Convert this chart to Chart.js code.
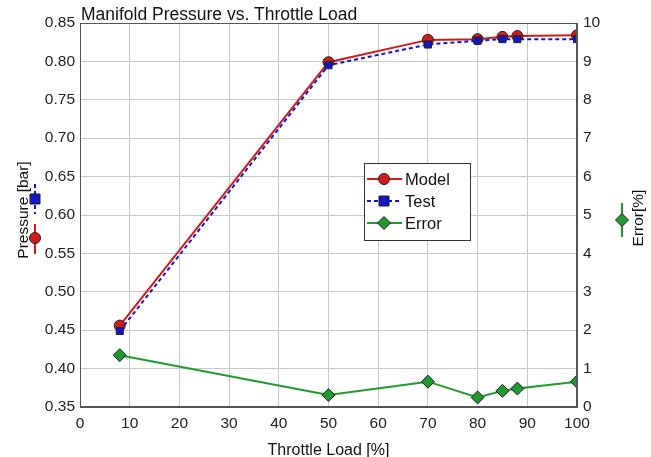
<!DOCTYPE html>
<html>
<head>
<meta charset="utf-8">
<script src="https://cdn.jsdelivr.net/npm/chart.js@4"></script>
<style>
  body { margin: 0; background: #fff; }
  canvas { display: block; }
</style>
</head>
<body>
<canvas id="chart" width="651" height="457"></canvas>
<script>
const throttle = [8, 50, 70, 80, 85, 88, 100];
const modelP = [0.456, 0.799, 0.828, 0.829, 0.832, 0.833, 0.834];
const testP = [0.449, 0.795, 0.822, 0.827, 0.829, 0.829, 0.829];
const errorPct = [1.35, 0.31, 0.66, 0.25, 0.42, 0.48, 0.66];

const FONT = 'Liberation Sans, Arial, sans-serif';
const RED = '#d21a1a', BLUE = '#1414c8', GREEN = '#1f9a2e';

function pts(ys) { return throttle.map((x, i) => ({ x: x, y: ys[i] })); }

function marker(ctx, kind, x, y, fill) {
  ctx.save();
  ctx.fillStyle = fill;
  ctx.strokeStyle = '#202020';
  ctx.lineWidth = 1;
  ctx.beginPath();
  if (kind === 'circle') ctx.arc(x, y, 5.5, 0, Math.PI * 2);
  else if (kind === 'rect') ctx.rect(x - 5, y - 5, 10, 10);
  else { ctx.moveTo(x, y - 6.5); ctx.lineTo(x + 6.5, y); ctx.lineTo(x, y + 6.5); ctx.lineTo(x - 6.5, y); ctx.closePath(); }
  ctx.fill(); ctx.stroke();
  ctx.restore();
}

// title, axis titles with their little series keys, legend box, top frame
const decor = {
  id: 'decor',
  afterDraw(chart) {
    const ctx = chart.ctx, a = chart.chartArea;
    ctx.save();
    ctx.strokeStyle = '#555';
    ctx.lineWidth = 1;
    ctx.strokeRect(a.left + 0.5, a.top + 0.5, a.right - a.left - 1, a.bottom - a.top - 1);

    ctx.fillStyle = '#111';
    ctx.font = '17.5px ' + FONT;
    ctx.textBaseline = 'alphabetic';
    ctx.textAlign = 'left';
    ctx.fillText('Manifold Pressure vs. Throttle Load', a.left + 1, 20);

    ctx.textAlign = 'center';
    ctx.font = '16px ' + FONT;
    ctx.fillText('Throttle Load [%]', (a.left + a.right) / 2, 455);

    // left title
    ctx.font = '15.5px ' + FONT;
    ctx.save();
    ctx.translate(28, 210);
    ctx.rotate(-Math.PI / 2);
    ctx.fillText('Pressure [bar]', 0, 0);
    ctx.restore();
    // key marks by the left title
    ctx.lineWidth = 2;
    ctx.strokeStyle = RED;
    ctx.beginPath(); ctx.moveTo(35, 224); ctx.lineTo(35, 254); ctx.stroke();
    marker(ctx, 'circle', 35, 238, RED);
    ctx.strokeStyle = BLUE;
    ctx.setLineDash([4, 3]);
    ctx.beginPath(); ctx.moveTo(35, 184); ctx.lineTo(35, 214); ctx.stroke();
    ctx.setLineDash([]);
    marker(ctx, 'rect', 35, 199, BLUE);

    // right title
    ctx.save();
    ctx.translate(643, 218);
    ctx.rotate(-Math.PI / 2);
    ctx.fillStyle = '#111';
    ctx.fillText('Error[%]', 0, 0);
    ctx.restore();
    ctx.strokeStyle = GREEN;
    ctx.lineWidth = 2;
    ctx.beginPath(); ctx.moveTo(622, 203); ctx.lineTo(622, 237); ctx.stroke();
    marker(ctx, 'diamond', 622, 220, GREEN);

    // legend box
    const bx = 364, by = 163, bw = 106, bh = 77;
    ctx.fillStyle = '#fff';
    ctx.fillRect(bx, by, bw, bh);
    ctx.strokeStyle = '#333';
    ctx.lineWidth = 1;
    ctx.strokeRect(bx + 0.5, by + 0.5, bw, bh);
    const rows = [
      { label: 'Model', color: RED, kind: 'circle', dash: [] },
      { label: 'Test', color: BLUE, kind: 'rect', dash: [4, 3] },
      { label: 'Error', color: GREEN, kind: 'diamond', dash: [] }
    ];
    ctx.font = '16.5px ' + FONT;
    ctx.textAlign = 'left';
    ctx.textBaseline = 'middle';
    rows.forEach((r, i) => {
      const y = by + 16 + i * 22;
      ctx.strokeStyle = r.color;
      ctx.lineWidth = 2;
      ctx.setLineDash(r.dash);
      ctx.beginPath(); ctx.moveTo(bx + 3, y); ctx.lineTo(bx + 38, y); ctx.stroke();
      ctx.setLineDash([]);
      marker(ctx, r.kind, bx + 20, y, r.color);
      ctx.fillStyle = '#111';
      ctx.fillText(r.label, bx + 41, y + 1);
    });
    ctx.restore();
  }
};

new Chart(document.getElementById('chart'), {
  type: 'line',
  data: {
    datasets: [
      {
        label: 'Model', data: pts(modelP), yAxisID: 'y',
        borderColor: RED, backgroundColor: RED, borderWidth: 2,
        pointStyle: 'circle', pointRadius: 5.5, pointBorderColor: '#202020', pointBorderWidth: 1,
        tension: 0, order: 2
      },
      {
        label: 'Test', data: pts(testP), yAxisID: 'y',
        borderColor: BLUE, backgroundColor: BLUE, borderWidth: 2, borderDash: [4, 3],
        pointStyle: 'rect', pointRadius: 5, pointBorderColor: '#202020', pointBorderWidth: 1,
        tension: 0, order: 1
      },
      {
        label: 'Error', data: pts(errorPct), yAxisID: 'y2',
        borderColor: GREEN, backgroundColor: GREEN, borderWidth: 2,
        pointStyle: 'rectRot', pointRadius: 6.5, pointBorderColor: '#202020', pointBorderWidth: 1,
        tension: 0, order: 3
      }
    ]
  },
  options: {
    responsive: false,
    animation: false,
    layout: { padding: { top: 23, left: 0, right: 0, bottom: 0 } },
    plugins: { legend: { display: false }, title: { display: false }, tooltip: { enabled: false } },
    scales: {
      x: {
        type: 'linear', min: 0, max: 100,
        ticks: { stepSize: 10, color: '#222', font: { family: FONT, size: 15.5 }, padding: 7 },
        grid: { color: '#c8c8c8', drawTicks: false },
        border: { color: '#555' },
        afterFit(s) { s.height = 50; }
      },
      y: {
        position: 'left', min: 0.35, max: 0.85,
        ticks: { stepSize: 0.05, color: '#222', font: { family: FONT, size: 15.5 }, padding: 5,
          callback: v => v.toFixed(2) },
        grid: { color: '#c8c8c8', drawTicks: false },
        border: { color: '#555' },
        afterFit(s) { s.width = 80; }
      },
      y2: {
        position: 'right', min: 0, max: 10,
        ticks: { stepSize: 1, color: '#222', font: { family: FONT, size: 15.5 }, padding: 6 },
        grid: { display: false, drawTicks: false },
        border: { color: '#555' },
        afterFit(s) { s.width = 74; }
      }
    }
  },
  plugins: [decor]
});
</script>
</body>
</html>
